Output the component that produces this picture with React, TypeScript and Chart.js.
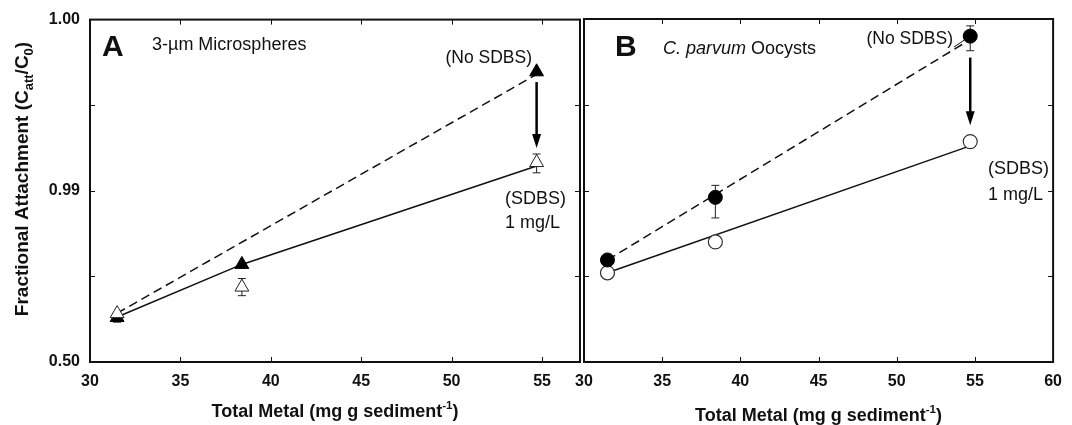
import React, { useEffect, useRef } from "react";
import { Chart, registerables } from "chart.js";

Chart.register(...registerables);

const FONT = "'Liberation Sans', Arial, Helvetica, sans-serif";

// ---- data ----
const METAL = [31.5, 38.4, 54.7];
// plotted units on the attachment axis: 0 = 0.50, 2 = 0.99, 4 = 1.00
const Y_TICK_VALUES = [0, 1, 2, 3, 4];
const Y_TICK_LABELS = ["0.50", "", "0.99", "", "1.00"];
const X_TICKS_A = [30, 35, 40, 45, 50, 55];
const X_TICKS_B = [30, 35, 40, 45, 50, 55, 60];

// Panel A: 3-um microspheres
const A_NO_SDBS = [0.52, 1.14, 3.39];
const A_SDBS = [0.565, 0.875, 2.33];
const A_SDBS_ERR_LOW = [0.1, 0.1, 0.12];
const A_SDBS_ERR_HIGH = [0.0, 0.1, 0.1];
const A_DASH_X = [31.5, 54.7];
const A_DASH_Y = [0.57, 3.36];
const A_SOLID_X = [31.5, 38.4, 54.7];
const A_SOLID_Y = [0.525, 1.14, 2.29];
const A_ARROW = { x: 54.7, from: 3.27, to: 2.5 };

// Panel B: C. parvum oocysts
const B_NO_SDBS = [1.19, 1.92, 3.8];
const B_NO_SDBS_ERR_LOW = [0, 0.24, 0.17];
const B_NO_SDBS_ERR_HIGH = [0, 0.14, 0.12];
const B_SDBS = [1.04, 1.4, 2.57];
const B_DASH_X = [31.5, 54.7];
const B_DASH_Y = [1.19, 3.76];
const B_SOLID_X = [31.5, 54.7];
const B_SOLID_Y = [1.04, 2.52];
const B_ARROW = { x: 54.7, from: 3.55, to: 2.76 };

const pts = (xs: number[], ys: number[]) => xs.map((x, i) => ({ x, y: ys[i] }));

type Seg = { t: string; size: number; weight?: string; style?: string; dy?: number };

function segFont(s: Seg) {
  return `${s.style || "normal"} ${s.weight || "normal"} ${s.size}px ${FONT}`;
}
function drawRich(ctx: CanvasRenderingContext2D, x: number, y: number, segs: Seg[], align: "left" | "center" | "right") {
  let total = 0;
  const widths = segs.map((s) => {
    ctx.font = segFont(s);
    const w = ctx.measureText(s.t).width;
    total += w;
    return w;
  });
  let cx = align === "left" ? x : align === "center" ? x - total / 2 : x - total;
  ctx.textAlign = "left";
  ctx.textBaseline = "alphabetic";
  segs.forEach((s, i) => {
    ctx.font = segFont(s);
    ctx.fillText(s.t, cx, y + (s.dy || 0));
    cx += widths[i];
  });
}

function drawArrow(ctx: CanvasRenderingContext2D, x: number, y1: number, y2: number) {
  const head = 14;
  const hw = 4.5;
  ctx.save();
  ctx.strokeStyle = "#000";
  ctx.fillStyle = "#000";
  ctx.lineWidth = 2.5;
  ctx.beginPath();
  ctx.moveTo(x, y1);
  ctx.lineTo(x, y2 - head + 2);
  ctx.stroke();
  ctx.beginPath();
  ctx.moveTo(x - hw, y2 - head);
  ctx.lineTo(x + hw, y2 - head);
  ctx.lineTo(x, y2);
  ctx.closePath();
  ctx.fill();
  ctx.restore();
}

const xTitle: Seg[] = [
  { t: "Total Metal (mg g sediment", size: 18, weight: "bold" },
  { t: "-1", size: 11.5, weight: "bold", dy: -8 },
  { t: ")", size: 18, weight: "bold" },
];

function framePlugin(xTicks: number[]) {
  return {
    id: "frame",
    beforeDatasetsDraw(chart: any) {
      const ctx = chart.ctx;
      const meta = chart.$errorBars || [];
      const xs = chart.scales.x;
      const ys = chart.scales.y;
      ctx.save();
      ctx.strokeStyle = "#222";
      ctx.lineWidth = 1;
      meta.forEach((e: any) => {
        e.ys.forEach((v: number, i: number) => {
          const lo = e.low[i];
          const hi = e.high[i];
          if (!lo && !hi) return;
          const px = xs.getPixelForValue(e.xs[i]);
          const pt = ys.getPixelForValue(v + hi);
          const pb = ys.getPixelForValue(v - lo);
          ctx.beginPath();
          ctx.moveTo(px, pt);
          ctx.lineTo(px, pb);
          ctx.moveTo(px - 4, pt);
          ctx.lineTo(px + 4, pt);
          ctx.moveTo(px - 4, pb);
          ctx.lineTo(px + 4, pb);
          ctx.stroke();
        });
      });
      ctx.restore();
    },
    afterDraw(chart: any) {
      const ctx = chart.ctx;
      const a = chart.chartArea;
      const xs = chart.scales.x;
      const ys = chart.scales.y;
      ctx.save();
      ctx.strokeStyle = "#111";
      ctx.lineWidth = 1;
      const tl = 5;
      xTicks.forEach((v) => {
        const px = Math.round(xs.getPixelForValue(v)) + 0.5;
        if (px <= a.left + 2 || px >= a.right - 2) return;
        ctx.beginPath();
        ctx.moveTo(px, a.bottom);
        ctx.lineTo(px, a.bottom - tl);
        ctx.moveTo(px, a.top);
        ctx.lineTo(px, a.top + tl);
        ctx.stroke();
      });
      Y_TICK_VALUES.forEach((v) => {
        const py = Math.round(ys.getPixelForValue(v)) + 0.5;
        if (py <= a.top + 2 || py >= a.bottom - 2) return;
        ctx.beginPath();
        ctx.moveTo(a.left, py);
        ctx.lineTo(a.left + tl, py);
        ctx.moveTo(a.right, py);
        ctx.lineTo(a.right - tl, py);
        ctx.stroke();
      });
      ctx.lineWidth = 2;
      ctx.strokeStyle = "#111";
      ctx.strokeRect(a.left, a.top, a.right - a.left, a.bottom - a.top);
      ctx.restore();
    },
  };
}

function makeConfig(opts: {
  padding: any;
  xMax: number;
  xTicks: number[];
  yWidth: number;
  showY: boolean;
  datasets: any[];
  annotate: (chart: any) => void;
  errorBars: any[];
}) {
  return {
    type: "scatter" as const,
    data: { datasets: opts.datasets },
    options: {
      animation: false,
      responsive: false,
      maintainAspectRatio: false,
      layout: { padding: opts.padding },
      plugins: { legend: { display: false }, tooltip: { enabled: false } },
      scales: {
        x: {
          type: "linear",
          min: 30,
          max: opts.xMax,
          grid: { display: false, drawTicks: false },
          border: { display: false },
          ticks: {
            font: { family: FONT, size: 16, weight: "bold" },
            color: "#111",
            padding: 10,
            maxRotation: 0,
            autoSkip: false,
          },
          afterBuildTicks: (s: any) => {
            s.ticks = opts.xTicks.map((v) => ({ value: v }));
          },
          afterFit: (s: any) => {
            s.height = 63;
          },
        },
        y: {
          type: "linear",
          min: 0,
          max: 4,
          grid: { display: false, drawTicks: false },
          border: { display: false },
          ticks: {
            display: opts.showY,
            font: { family: FONT, size: 16, weight: "bold" },
            color: "#111",
            padding: 10,
            autoSkip: false,
            callback: (v: any) => {
              const i = Y_TICK_VALUES.indexOf(Number(v));
              return i >= 0 ? Y_TICK_LABELS[i] : "";
            },
          },
          afterBuildTicks: (s: any) => {
            s.ticks = Y_TICK_VALUES.map((v) => ({ value: v }));
          },
          afterFit: (s: any) => {
            s.width = opts.yWidth;
          },
        },
      },
    },
    plugins: [
      {
        id: "errs",
        beforeInit(chart: any) {
          chart.$errorBars = opts.errorBars;
        },
      },
      framePlugin(opts.xTicks),
      { id: "annot", afterDraw: (chart: any) => opts.annotate(chart) },
    ],
  };
}

const lineDs = (data: any[], dashed: boolean) => ({
  data,
  showLine: true,
  borderColor: "#111",
  borderWidth: 1.5,
  borderDash: dashed ? [9, 5] : [],
  pointRadius: 0,
  fill: false,
  order: 5,
});

export default function App() {
  const refA = useRef<HTMLCanvasElement>(null);
  const refB = useRef<HTMLCanvasElement>(null);

  useEffect(() => {
    const W = 1072;
    const chartA = new Chart(
      refA.current as HTMLCanvasElement,
      makeConfig({
        padding: { left: 0, top: 19, right: W - 580, bottom: 0 },
        xMax: 57.1,
        xTicks: X_TICKS_A,
        yWidth: 90,
        showY: true,
        errorBars: [{ xs: METAL, ys: A_SDBS, low: A_SDBS_ERR_LOW, high: A_SDBS_ERR_HIGH }],
        datasets: [
          lineDs(pts(A_DASH_X, A_DASH_Y), true),
          lineDs(pts(A_SOLID_X, A_SOLID_Y), false),
          {
            data: pts(METAL, A_NO_SDBS),
            pointStyle: "triangle",
            pointRadius: 8,
            backgroundColor: "#000",
            borderColor: "#000",
            borderWidth: 1,
            showLine: false,
            order: 2,
          },
          {
            data: pts(METAL, A_SDBS),
            pointStyle: "triangle",
            pointRadius: 8,
            backgroundColor: "#fff",
            borderColor: "#222",
            borderWidth: 1,
            showLine: false,
            order: 1,
          },
        ],
        annotate: (chart: any) => {
          const ctx = chart.ctx;
          const xs = chart.scales.x;
          const ys = chart.scales.y;
          const a = chart.chartArea;
          ctx.save();
          ctx.fillStyle = "#111";
          drawRich(ctx, 102, 56, [{ t: "A", size: 30, weight: "bold" }], "left");
          drawRich(ctx, 152, 50, [{ t: "3-µm Microspheres", size: 18 }], "left");
          drawRich(ctx, 532, 63, [{ t: "(No SDBS)", size: 17.5 }], "right");
          drawRich(ctx, 566, 204, [{ t: "(SDBS)", size: 18 }], "right");
          drawRich(ctx, 560, 228, [{ t: "1 mg/L", size: 18 }], "right");
          drawArrow(ctx, xs.getPixelForValue(A_ARROW.x), ys.getPixelForValue(A_ARROW.from), ys.getPixelForValue(A_ARROW.to));
          // axis titles
          drawRich(ctx, (a.left + a.right) / 2, 417, xTitle, "center");
          ctx.translate(28, 179);
          ctx.rotate(-Math.PI / 2);
          drawRich(
            ctx,
            0,
            0,
            [
              { t: "Fractional Attachment (C", size: 19, weight: "bold" },
              { t: "att", size: 13, weight: "bold", dy: 5 },
              { t: "/C", size: 19, weight: "bold" },
              { t: "0", size: 13, weight: "bold", dy: 5 },
              { t: ")", size: 19, weight: "bold" },
            ],
            "center"
          );
          ctx.restore();
        },
      }) as any
    );

    const chartB = new Chart(
      refB.current as HTMLCanvasElement,
      makeConfig({
        padding: { left: 584, top: 19, right: W - 1063, bottom: 0 },
        xMax: 60,
        xTicks: X_TICKS_B,
        yWidth: 0,
        showY: false,
        errorBars: [{ xs: METAL, ys: B_NO_SDBS, low: B_NO_SDBS_ERR_LOW, high: B_NO_SDBS_ERR_HIGH }],
        datasets: [
          lineDs(pts(B_DASH_X, B_DASH_Y), true),
          lineDs(pts(B_SOLID_X, B_SOLID_Y), false),
          {
            data: pts(METAL, B_SDBS),
            pointStyle: "circle",
            pointRadius: 7,
            backgroundColor: "#fff",
            borderColor: "#333",
            borderWidth: 1.2,
            showLine: false,
            order: 2,
          },
          {
            data: pts(METAL, B_NO_SDBS),
            pointStyle: "circle",
            pointRadius: 7,
            backgroundColor: "#000",
            borderColor: "#000",
            borderWidth: 1,
            showLine: false,
            order: 1,
          },
        ],
        annotate: (chart: any) => {
          const ctx = chart.ctx;
          const xs = chart.scales.x;
          const ys = chart.scales.y;
          const a = chart.chartArea;
          ctx.save();
          ctx.fillStyle = "#111";
          drawRich(ctx, 615, 56, [{ t: "B", size: 30, weight: "bold" }], "left");
          drawRich(
            ctx,
            663,
            54,
            [
              { t: "C. parvum", size: 18, style: "italic" },
              { t: " Oocysts", size: 18 },
            ],
            "left"
          );
          drawRich(ctx, 953, 44, [{ t: "(No SDBS)", size: 17.5 }], "right");
          ctx.strokeStyle = "#111";
          ctx.lineWidth = 1;
          ctx.beginPath();
          ctx.moveTo(954, 47);
          ctx.lineTo(966, 39);
          ctx.stroke();
          drawRich(ctx, 988, 174, [{ t: "(SDBS)", size: 18 }], "left");
          drawRich(ctx, 988, 200, [{ t: "1 mg/L", size: 18 }], "left");
          drawArrow(ctx, xs.getPixelForValue(B_ARROW.x), ys.getPixelForValue(B_ARROW.from), ys.getPixelForValue(B_ARROW.to));
          drawRich(ctx, (a.left + a.right) / 2, 421, xTitle, "center");
          ctx.restore();
        },
      }) as any
    );

    return () => {
      chartA.destroy();
      chartB.destroy();
    };
  }, []);

  return (
    <div style={{ position: "fixed", left: 0, top: 0, width: 1072, height: 425, background: "#fff" }}>
      <canvas ref={refA} width={1072} height={425} style={{ position: "absolute", left: 0, top: 0 }} />
      <canvas ref={refB} width={1072} height={425} style={{ position: "absolute", left: 0, top: 0 }} />
    </div>
  );
}
